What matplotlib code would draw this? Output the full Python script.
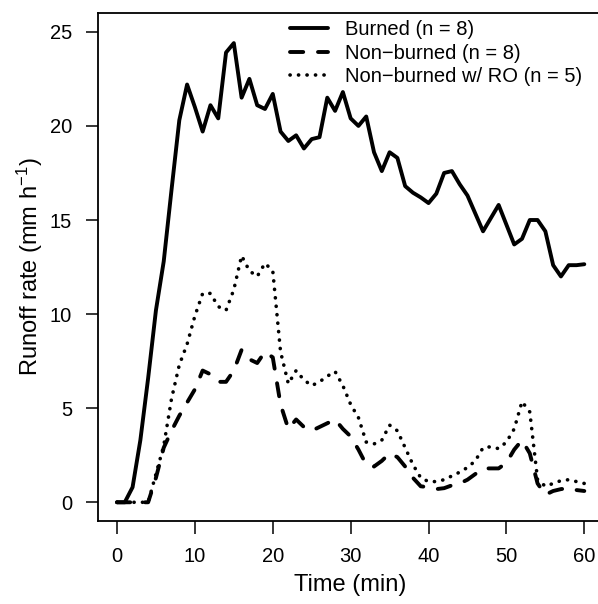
import matplotlib
matplotlib.use("Agg")
import matplotlib.pyplot as plt
from matplotlib.lines import Line2D

plt.rcParams['font.family'] = ['Liberation Sans', 'DejaVu Sans']
plt.rcParams['mathtext.fontset'] = 'custom'
plt.rcParams['mathtext.rm'] = 'Liberation Sans'
plt.rcParams['mathtext.it'] = 'Liberation Sans:italic'
plt.rcParams['mathtext.bf'] = 'Liberation Sans:bold'

time_min = list(range(0, 61))
burned = [0, 0, 0.8, 3.3, 6.6, 10.2, 12.8, 16.6, 20.3, 22.2,
          21.0, 19.7, 21.1, 20.4, 23.9, 24.4, 21.5, 22.5, 21.1, 20.9,
          21.7, 19.7, 19.2, 19.5, 18.8, 19.3, 19.4, 21.5, 20.8, 21.8,
          20.4, 20.0, 20.5, 18.6, 17.6, 18.6, 18.3, 16.8, 16.45, 16.2,
          15.9, 16.4, 17.5, 17.6, 16.9, 16.3, 15.35, 14.4, 15.1, 15.8,
          14.75, 13.7, 14.0, 15.0, 15.0, 14.4, 12.6, 12.0, 12.6, 12.6,
          12.65]
non_burned = [0, 0, 0, 0, 0, 1.3, 2.9, 3.8, 4.6, 5.3,
              6.0, 7.0, 6.8, 6.4, 6.4, 7.0, 8.1, 7.6, 7.4, 8.0,
              7.7, 5.2, 3.9, 4.4, 4.0, 3.8, 4.0, 4.2, 4.4, 3.9,
              3.5, 2.8, 2.0, 1.9, 2.2, 2.6, 2.4, 1.9, 1.3, 0.85,
              0.8, 0.7, 0.75, 0.9, 1.0, 1.2, 1.5, 1.8, 1.8, 1.8,
              2.1, 2.8, 3.3, 2.6, 1.0, 0.4, 0.6, 0.7, 0.75, 0.65,
              0.6]
non_burned_ro = [0, 0, 0, 0, 0, 1.5, 3.0, 5.5, 7.3, 8.4,
                 9.9, 11.1, 11.1, 10.4, 10.2, 11.3, 13.1, 12.3, 12.0, 12.7,
                 12.3, 8.0, 6.3, 7.0, 6.5, 6.2, 6.4, 6.7, 6.95, 6.2,
                 5.2, 4.5, 3.2, 3.1, 3.3, 4.1, 3.8, 2.9, 2.0, 1.3,
                 1.1, 1.1, 1.2, 1.4, 1.6, 1.85, 2.2, 2.9, 2.95, 2.85,
                 3.2, 3.9, 5.35, 4.8, 1.2, 0.85, 1.0, 1.15, 1.2, 1.1,
                 1.0]
labels = ["Burned (n = 8)", "Non\u2212burned (n = 8)", "Non\u2212burned w/ RO (n = 5)"]
x_ticks = [0, 10, 20, 30, 40, 50, 60]
y_ticks = [0, 5, 10, 15, 20, 25]

W, H = 598, 604
fig = plt.figure(figsize=(W / 100, H / 100), dpi=100)
ax_l, ax_r, ax_t, ax_b = 98.3, 603.0, 13.0, 521.1
ax = fig.add_axes([ax_l / W, 1 - ax_b / H, (ax_r - ax_l) / W, (ax_b - ax_t) / H])

lw = 2.8
l1, = ax.plot(time_min, burned, color='black', lw=lw, solid_capstyle='round', solid_joinstyle='round')
l2, = ax.plot(time_min, non_burned, color='black', lw=lw, dashes=(3.4, 3.8),
              dash_capstyle='round', dash_joinstyle='round')
l3, = ax.plot(time_min, non_burned_ro, color='black', lw=2.6, dashes=(0.05, 2.3),
              dash_capstyle='round', dash_joinstyle='round')

ax.set_xlim(-2.4, 62.4)
ax.set_ylim(-1.0, 26.0)
ax.set_xticks(x_ticks)
ax.set_yticks(y_ticks)
ax.tick_params(direction='out', length=9, width=1.1, labelsize=14.5, pad=10, color='black')
for s in ax.spines.values():
    s.set_linewidth(1.3)

fig.text(30 / W, 1 - 267 / H, r'Runoff rate (mm h$^{-1}$)', rotation=90,
         ha='center', va='center', fontsize=17)
fig.text(350.6 / W, 1 - 585 / H, 'Time (min)', ha='center', va='center', fontsize=17)

leg = ax.legend([l1, l2, l3], labels, frameon=False, fontsize=14.5,
                loc='upper left', bbox_to_anchor=(290 / W, 1 - 20 / H),
                bbox_transform=fig.transFigure, handlelength=1.9,
                handletextpad=0.85, labelspacing=0.23, borderpad=0, borderaxespad=0)

fig.savefig('out.png', dpi=100)
